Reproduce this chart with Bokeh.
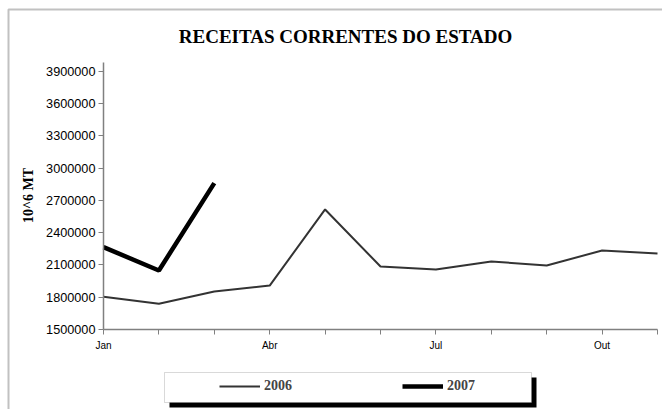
from bokeh.plotting import figure
from bokeh.models import FixedTicker, Label, BoxAnnotation, Legend, LegendItem, Range1d, NumeralTickFormatter
from bokeh.embed import file_html
from bokeh.resources import INLINE

# ---- data ----
months = ["Jan", "Fev", "Mar", "Abr", "Mai", "Jun", "Jul", "Ago", "Set", "Out", "Nov"]
month_labels = ["Jan", "", "", "Abr", "", "", "Jul", "", "", "Out", ""]
x_2006 = list(range(11))
rev_2006 = [1805000, 1740000, 1853000, 1908000, 2615000, 2085000, 2057000, 2132000, 2094000, 2234000, 2206000]
x_2007 = [0, 1, 2]
rev_2007 = [2265000, 2048000, 2860000]
y_ticks = [1500000, 1800000, 2100000, 2400000, 2700000, 3000000, 3300000, 3600000, 3900000]
title_text = "RECEITAS CORRENTES DO ESTADO"
y_title = "10^6 MT"
series_names = ["2006", "2007"]

W, H = 662, 409
# plot-area geometry (canvas px)
FL, FR, FT, FB = 103, 657, 62, 329
Y0, Y1 = 1500000, 3980000
X0, X1 = 0, 10
xpx = (FR - FL) / (X1 - X0)
ypx = (FB - FT) / (Y1 - Y0)
x_range = Range1d(X0 - FL / xpx, X1 + (W - FR) / xpx)
y_range = Range1d(Y0 - (H - FB) / ypx, Y1 + FT / ypx)

p = figure(width=W, height=H, output_backend="svg", toolbar_location=None,
           x_range=x_range, y_range=y_range,
           min_border_left=0, min_border_right=0, min_border_top=0, min_border_bottom=0)
p.outline_line_color = None
p.grid.visible = False
p.background_fill_color = "white"
p.border_fill_color = "white"

r06 = p.line(x_2006, rev_2006, line_color="#333333", line_width=2)
r07 = p.line(x_2007, rev_2007, line_color="black", line_width=4.5)

for ax in (p.xaxis[0], p.yaxis[0]):
    ax.axis_line_color = "#808080"
    ax.axis_line_width = 1.5
    ax.major_tick_line_color = "#808080"
    ax.major_tick_in = 0
    ax.major_tick_out = 5
    ax.minor_tick_line_color = None
    ax.major_label_text_font = "Liberation Sans"
    ax.major_label_text_color = "black"

p.xaxis.fixed_location = Y0
p.xaxis.bounds = (X0, X1)
p.xaxis.ticker = FixedTicker(ticks=x_2006)
p.xaxis.major_label_overrides = {i: lab for i, lab in enumerate(month_labels)}
p.xaxis.major_label_text_font_size = "10px"
p.xaxis.major_label_standoff = 5

p.yaxis.fixed_location = X0
p.yaxis.bounds = (Y0, Y1)
p.yaxis.ticker = FixedTicker(ticks=y_ticks)
p.yaxis.formatter = NumeralTickFormatter(format="0")
p.yaxis.major_label_text_font_size = "12.7px"
p.yaxis.major_label_standoff = 3

def cbox(l, r, t, b, **kw):
    return BoxAnnotation(left=l, right=r, top=t, bottom=b,
                         left_units="canvas", right_units="canvas",
                         top_units="canvas", bottom_units="canvas", **kw)

# outer chart border (only top and left visible in the window)
p.add_layout(cbox(8, W + 20, 9, H + 20, fill_color=None, line_color="#333333", line_width=2))

p.add_layout(Label(x=345, y=36, x_units="canvas", y_units="canvas", text=title_text,
                   text_align="center", text_baseline="middle", text_font="Liberation Serif",
                   text_font_style="bold", text_font_size="19px", text_color="black"))
p.add_layout(Label(x=28, y=195, x_units="canvas", y_units="canvas", text=y_title, angle=1.5708,
                   text_align="center", text_baseline="middle", text_font="Liberation Serif",
                   text_font_style="bold", text_font_size="14px", text_color="black"))

# legend frame with shadow
p.add_layout(cbox(169, 536, 377, 407, fill_color="black", fill_alpha=1, line_color=None))
p.add_layout(cbox(164, 531, 372, 402, fill_color="white", fill_alpha=1, line_color="#808080", line_width=1))

legend = Legend(items=[LegendItem(label=series_names[0], renderers=[r06]),
                       LegendItem(label=series_names[1], renderers=[r07])],
                orientation="horizontal", location=(219, H - 394), padding=0, margin=0, spacing=0,
                glyph_width=41, glyph_height=14, label_height=14, label_width=138, label_standoff=4,
                label_text_font="Liberation Serif", label_text_font_style="bold", label_text_font_size="14px",
                border_line_color=None, background_fill_alpha=0)
p.add_layout(legend, "center")

open("out.html", "w").write(file_html(p, INLINE))
